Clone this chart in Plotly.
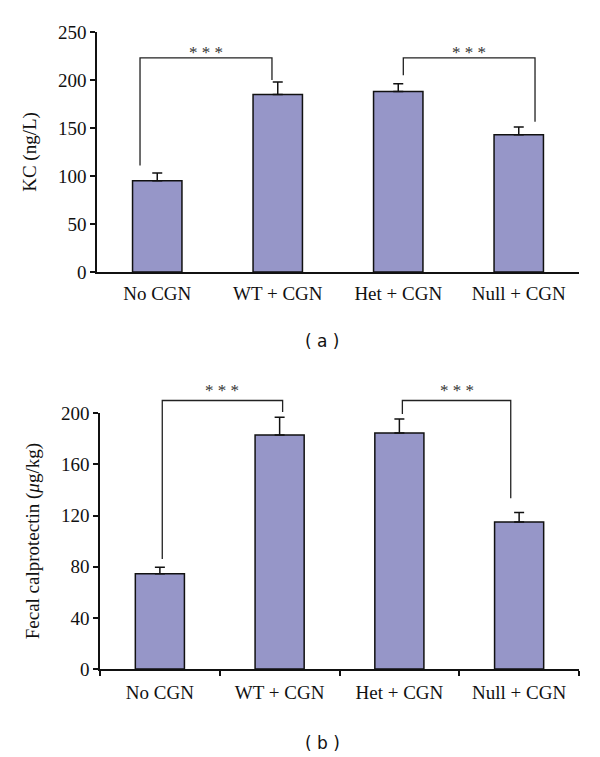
import plotly.graph_objects as go

categories = ["No CGN", "WT + CGN", "Het + CGN", "Null + CGN"]
kc_values = [95, 185, 188, 143]
kc_errors = [8, 13, 8, 8]
calpro_values = [74.5, 183, 184.5, 115]
calpro_errors = [5, 14, 11, 7.5]
kc_ticks = [0, 50, 100, 150, 200, 250]
calpro_ticks = [0, 40, 80, 120, 160, 200]

# page body has an 8px default margin; figure sized to fit the 600x757 window
OFF = 8
W, H = 600 - OFF, 757 - OFF
BAR_COLOR = "rgb(150,150,200)"
SERIF = "Liberation Serif"


def px_x(x):
    return (x - OFF) / W


def px_y(y):
    return 1 - (y - OFF) / H


# domains (paper fractions), from window pixel positions
dom_x1 = [px_x(97), px_x(579)]
dom_y1 = [px_y(272), px_y(32)]
dom_x2 = [px_x(100), px_x(579)]
dom_y2 = [px_y(669), px_y(413.3)]
r1 = [0, 250]
r2 = [0, 200]


def ypaper(v, dom, rng):
    return dom[0] + (v - rng[0]) / (rng[1] - rng[0]) * (dom[1] - dom[0])


fig = go.Figure()
for vals, errs, xa, ya in [(kc_values, kc_errors, "x", "y"), (calpro_values, calpro_errors, "x2", "y2")]:
    fig.add_trace(go.Bar(
        x=categories, y=vals, xaxis=xa, yaxis=ya, width=0.41,
        marker=dict(color=BAR_COLOR, line=dict(color="#111", width=1.5)),
        error_y=dict(type="data", array=errs, arrayminus=[0] * len(errs), symmetric=False,
                     color="#111", thickness=1.5, width=5),
        showlegend=False,
    ))

axis_common = dict(showline=True, linecolor="#111", linewidth=1.5, showgrid=False, zeroline=False,
                   tickfont=dict(family=SERIF, size=19, color="#111"), tickcolor="#111",
                   tickwidth=1.5, automargin=False)

fig.update_layout(
    width=W, height=H, margin=dict(l=0, r=0, t=0, b=0), template="none",
    paper_bgcolor="white", plot_bgcolor="white", bargap=0.59,
    xaxis=dict(domain=dom_x1, anchor="y", type="category", ticks="", ticklen=0, range=[-0.5, 3.5],
               ticklabelstandoff=3, **axis_common),
    yaxis=dict(domain=dom_y1, anchor="x", range=r1, tickvals=kc_ticks, ticks="outside", ticklen=5,
               title=dict(text="KC (ng/L)", font=dict(family=SERIF, size=19, color="#111"), standoff=16),
               **axis_common),
    xaxis2=dict(domain=dom_x2, anchor="y2", type="category", ticks="outside", ticklen=5, tickson="boundaries",
                range=[-0.5, 3.5], ticklabelstandoff=5, **axis_common),
    yaxis2=dict(domain=dom_y2, anchor="x2", range=r2, tickvals=calpro_ticks, ticks="outside", ticklen=5,
                title=dict(text="Fecal calprotectin (<i>μ</i>g/kg)", font=dict(family=SERIF, size=19, color="#111"),
                           standoff=16),
                **axis_common),
)

# significance brackets: (xref, dom, range, x_left, y_left_end, x_right, y_right_end, y_top, star_shift)
brackets = [
    ("x", dom_y1, r1, -0.143, 111, 0.952, 200, 223, -6),
    ("x", dom_y1, r1, 2.042, 205, 3.135, 156.6, 223, -6),
    ("x2", dom_y2, r2, 0.02, 86, 1.025, 201, 210, -1),
    ("x2", dom_y2, r2, 2.025, 199.5, 2.93, 133.5, 210, -1),
]
for xr, dom, rng, xl, yl, xrr, yr, yt, ss in brackets:
    top = ypaper(yt, dom, rng)
    fig.add_shape(type="path", xref=xr, yref="paper",
                  path=f"M {xl} {ypaper(yl, dom, rng)} L {xl} {top} L {xrr} {top} L {xrr} {ypaper(yr, dom, rng)}",
                  line=dict(color="#222", width=1.3))
    fig.add_annotation(x=(xl + xrr) / 2, xref=xr, y=top, yref="paper", xanchor="center", yanchor="bottom",
                       yshift=ss, text="* * *", showarrow=False, font=dict(family=SERIF, size=17, color="#333"))

for label, ypx in [("( a )", 341), ("( b )", 743)]:
    fig.add_annotation(x=px_x(322), y=px_y(ypx), xref="paper", yref="paper", xanchor="center", yanchor="middle",
                       text=label, showarrow=False, font=dict(family="DejaVu Sans", size=17, color="#111"))

fig.write_html("out.html")
